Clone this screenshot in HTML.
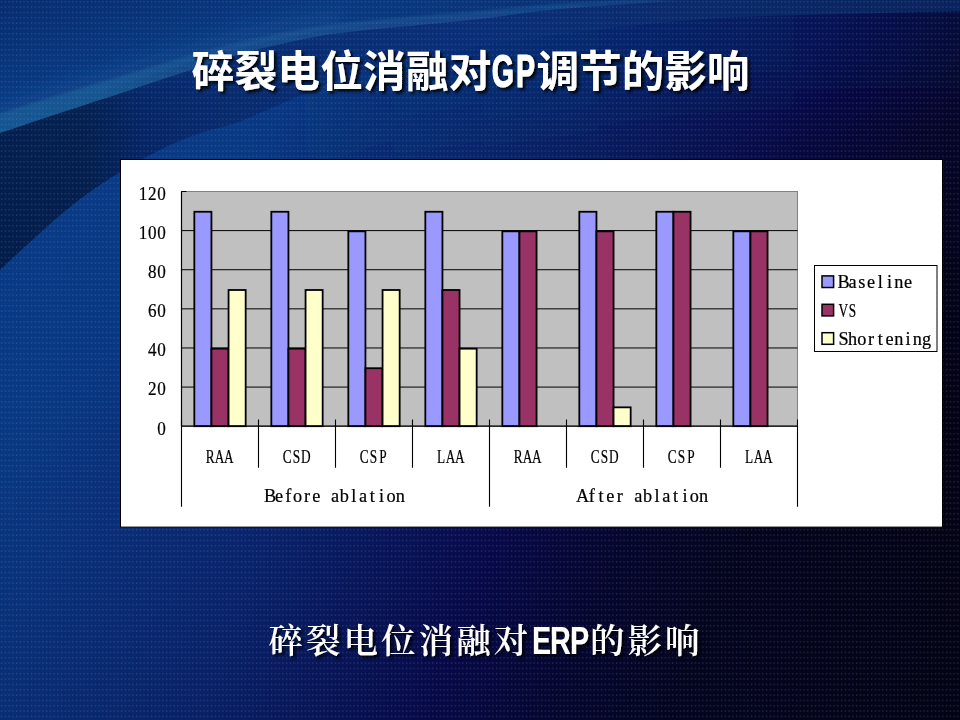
<!DOCTYPE html>
<html lang="zh"><head><meta charset="utf-8"><title>碎裂电位消融对GP调节的影响</title>
<style>
html,body{margin:0;padding:0;background:#08082a;}
body{width:960px;height:720px;overflow:hidden;position:relative;}
svg{position:absolute;left:0;top:0;display:block;}
.m{font-family:"Liberation Serif","Noto Serif CJK SC",serif;text-anchor:middle;fill:#000;stroke:#000;stroke-width:0.22px;}
.t1{font-family:"Liberation Sans","Noto Sans CJK SC","WenQuanYi Zen Hei",sans-serif;font-weight:700;fill:#fff;}
.t1l{font-family:"Liberation Sans","Noto Sans CJK SC",sans-serif;font-weight:700;fill:#fff;text-anchor:middle;}
.gp{stroke:#fff;stroke-width:1.1px;stroke-linejoin:round;}
.t2{font-family:"Liberation Serif","Noto Serif CJK SC","Noto Sans CJK SC",serif;font-weight:600;fill:#fff;}
</style></head><body>
<svg width="960" height="720" viewBox="0 0 960 720">
<defs>
<linearGradient id="gBase" gradientUnits="userSpaceOnUse" x1="0" y1="0" x2="885.6" y2="629.8">
 <stop offset="0" stop-color="#093b86"/>
 <stop offset="0.27" stop-color="#093983"/>
 <stop offset="0.34" stop-color="#093075"/>
 <stop offset="0.49" stop-color="#092163"/>
 <stop offset="0.64" stop-color="#080d4a"/>
 <stop offset="0.68" stop-color="#07083f"/>
 <stop offset="0.77" stop-color="#06062a"/>
 <stop offset="0.86" stop-color="#04041a"/>
 <stop offset="1" stop-color="#020210"/>
</linearGradient>
<linearGradient id="gTop" gradientUnits="userSpaceOnUse" x1="0" y1="0" x2="960" y2="0">
 <stop offset="0" stop-color="#093a82"/>
 <stop offset="0.4" stop-color="#09387f"/>
 <stop offset="0.7" stop-color="#0a2c6c"/>
 <stop offset="1" stop-color="#09235c"/>
</linearGradient>
<linearGradient id="gWedge" gradientUnits="userSpaceOnUse" x1="0" y1="0" x2="960" y2="0">
 <stop offset="0" stop-color="#041f4d"/>
 <stop offset="0.09" stop-color="#052150"/>
 <stop offset="0.15" stop-color="#07286a"/>
 <stop offset="0.21" stop-color="#092c70"/>
 <stop offset="0.35" stop-color="#0a2e74"/>
 <stop offset="0.5" stop-color="#0a2f78"/>
 <stop offset="0.72" stop-color="#0a2a6a"/>
 <stop offset="1" stop-color="#09235c"/>
</linearGradient>
<linearGradient id="gWsh" gradientUnits="userSpaceOnUse" x1="0" y1="0" x2="330" y2="0">
 <stop offset="0" stop-color="#031a47" stop-opacity="0.85"/>
 <stop offset="0.45" stop-color="#031a47" stop-opacity="0.45"/>
 <stop offset="1" stop-color="#031a47" stop-opacity="0"/>
</linearGradient>
<linearGradient id="gBand" gradientUnits="userSpaceOnUse" x1="0" y1="0" x2="700" y2="0">
 <stop offset="0" stop-color="#185690"/>
 <stop offset="0.14" stop-color="#185792" stop-opacity="0.95"/>
 <stop offset="0.3" stop-color="#195894" stop-opacity="0.62"/>
 <stop offset="0.5" stop-color="#1b5a98" stop-opacity="0.55"/>
 <stop offset="0.8" stop-color="#1c5b99" stop-opacity="0.5"/>
 <stop offset="1" stop-color="#2464a6" stop-opacity="0.2"/>
</linearGradient>
<linearGradient id="gGlow" gradientUnits="userSpaceOnUse" x1="260" y1="0" x2="1000" y2="0">
 <stop offset="0" stop-color="#0b2f7c" stop-opacity="0"/>
 <stop offset="0.35" stop-color="#0b2f7c" stop-opacity="0.4"/>
 <stop offset="0.62" stop-color="#0b2c78" stop-opacity="0.3"/>
 <stop offset="0.8" stop-color="#0b2a74" stop-opacity="0.2"/>
 <stop offset="1" stop-color="#0b2a74" stop-opacity="0.1"/>
</linearGradient>
<filter id="b25" x="-20%" y="-100%" width="140%" height="400%"><feGaussianBlur stdDeviation="28"/></filter>
<linearGradient id="gTopV" gradientUnits="userSpaceOnUse" x1="0" y1="0" x2="28" y2="95">
 <stop offset="0" stop-color="#06205c" stop-opacity="0.5"/>
 <stop offset="1" stop-color="#06205c" stop-opacity="0"/>
</linearGradient>
<linearGradient id="gBaseB" gradientUnits="userSpaceOnUse" x1="0" y1="0" x2="1104.8" y2="392.8">
 <stop offset="0" stop-color="#093b86"/>
 <stop offset="0.14" stop-color="#093983"/>
 <stop offset="0.20" stop-color="#0a347f"/>
 <stop offset="0.36" stop-color="#0a256f"/>
 <stop offset="0.55" stop-color="#08094a"/>
 <stop offset="0.65" stop-color="#06062e"/>
 <stop offset="0.745" stop-color="#04051d"/>
 <stop offset="0.94" stop-color="#030313"/>
 <stop offset="1" stop-color="#020210"/>
</linearGradient>
<linearGradient id="gMaskV" gradientUnits="userSpaceOnUse" x1="0" y1="250" x2="0" y2="500">
 <stop offset="0" stop-color="#000"/>
 <stop offset="1" stop-color="#fff"/>
</linearGradient>
<mask id="mLow" maskUnits="userSpaceOnUse" x="0" y="0" width="960" height="720"><rect width="960" height="720" fill="url(#gMaskV)"/></mask>
<linearGradient id="gDarkB" gradientUnits="userSpaceOnUse" x1="0" y1="400" x2="0" y2="720">
 <stop offset="0" stop-color="#020a30" stop-opacity="0"/>
 <stop offset="1" stop-color="#020a30" stop-opacity="0.14"/>
</linearGradient>
<clipPath id="cBand"><path d="M-10.0,136.5 C-8.3,135.9 -11.7,136.9 0.0,133.0 C11.7,129.1 40.0,119.6 60.0,113.0 C80.0,106.4 103.3,99.0 120.0,93.5 C136.7,88.0 146.7,84.4 160.0,80.0 C173.3,75.6 186.7,71.3 200.0,67.0 C213.3,62.7 225.0,58.2 240.0,54.0 C255.0,49.8 273.3,45.5 290.0,42.0 C306.7,38.5 318.3,35.8 340.0,33.0 C361.7,30.2 396.7,27.3 420.0,25.0 C443.3,22.7 460.0,21.3 480.0,19.0 C500.0,16.7 520.0,13.2 540.0,11.0 C560.0,8.8 580.0,7.5 600.0,6.0 C620.0,4.5 641.7,3.2 660.0,2.0 C678.3,0.8 701.7,-0.5 710.0,-1.0 L720,-10 L-10,-10 Z"/></clipPath>
<clipPath id="cWedge"><path d="M-10.0,280.0 C-8.3,278.3 -6.5,276.2 0.0,270.0 C6.5,263.8 19.3,251.8 29.0,243.0 C38.7,234.2 48.3,225.2 58.0,217.0 C67.7,208.8 76.7,201.5 87.0,194.0 C97.3,186.5 110.2,178.2 120.0,172.0 C129.8,165.8 136.8,161.8 146.0,157.0 C155.2,152.2 165.3,147.2 175.0,143.0 C184.7,138.8 194.3,135.2 204.0,132.0 C213.7,128.8 223.7,127.2 233.0,124.0 C242.3,120.8 245.8,119.0 260.0,113.0 C274.2,107.0 302.0,94.7 318.0,88.0 C334.0,81.3 339.0,78.2 356.0,73.0 C373.0,67.8 399.3,61.5 420.0,57.0 C440.7,52.5 460.0,49.3 480.0,46.0 C500.0,42.7 516.7,40.2 540.0,37.0 C563.3,33.8 590.0,30.2 620.0,27.0 C650.0,23.8 683.3,20.2 720.0,18.0 C756.7,15.8 798.3,15.2 840.0,14.0 C881.7,12.8 948.3,11.5 970.0,11.0 L970,-10 L-10,-10 Z"/></clipPath>
<filter id="b1" x="-5%" y="-20%" width="110%" height="140%"><feGaussianBlur stdDeviation="0.9"/></filter>
<filter id="b15" x="-5%" y="-30%" width="110%" height="160%"><feGaussianBlur stdDeviation="1.6"/></filter>
<filter id="b2" x="-5%" y="-30%" width="110%" height="160%"><feGaussianBlur stdDeviation="2.2"/></filter>
<filter id="b8" x="-10%" y="-50%" width="120%" height="200%"><feGaussianBlur stdDeviation="9"/></filter>
<filter id="sh" x="-5%" y="-20%" width="110%" height="150%"><feDropShadow dx="2.5" dy="2.5" stdDeviation="1.6" flood-color="#000" flood-opacity="0.9"/></filter>
<pattern id="dots" width="3.75" height="5.3333" patternUnits="userSpaceOnUse"><rect x="1" y="1" width="1.2" height="1.5" fill="#9fc0ff" fill-opacity="0.2"/></pattern>
</defs>
<rect width="960" height="720" fill="url(#gBase)"/>
<rect width="960" height="720" fill="url(#gBaseB)" mask="url(#mLow)"/>
<rect width="960" height="720" fill="url(#gDarkB)"/>
<path d="M260.0,113.0 C269.7,108.8 302.0,94.7 318.0,88.0 C334.0,81.3 339.0,78.2 356.0,73.0 C373.0,67.8 399.3,61.5 420.0,57.0 C440.7,52.5 460.0,49.3 480.0,46.0 C500.0,42.7 516.7,40.2 540.0,37.0 C563.3,33.8 590.0,30.2 620.0,27.0 C650.0,23.8 683.3,20.2 720.0,18.0 C756.7,15.8 798.3,15.2 840.0,14.0 C881.7,12.8 948.3,11.5 970.0,11.0" stroke="url(#gGlow)" stroke-width="150" fill="none" filter="url(#b25)"/>
<g clip-path="url(#cWedge)">
<rect x="-10" y="-10" width="980" height="300" fill="url(#gWedge)"/>
<path d="M-10.0,280.0 C-8.3,278.3 -6.5,276.2 0.0,270.0 C6.5,263.8 19.3,251.8 29.0,243.0 C38.7,234.2 48.3,225.2 58.0,217.0 C67.7,208.8 76.7,201.5 87.0,194.0 C97.3,186.5 110.2,178.2 120.0,172.0 C129.8,165.8 136.8,161.8 146.0,157.0 C155.2,152.2 165.3,147.2 175.0,143.0 C184.7,138.8 194.3,135.2 204.0,132.0 C213.7,128.8 223.7,127.2 233.0,124.0 C242.3,120.8 245.8,119.0 260.0,113.0 C274.2,107.0 302.0,94.7 318.0,88.0 C334.0,81.3 349.7,75.5 356.0,73.0" stroke="url(#gWsh)" stroke-width="90" fill="none" filter="url(#b8)" opacity="0.25"/>
<path d="M-10.0,127.0 C-8.3,126.5 -11.7,127.8 0.0,124.0 C11.7,120.2 40.0,110.5 60.0,104.0 C80.0,97.5 103.3,90.3 120.0,85.0 C136.7,79.7 146.7,76.2 160.0,72.0 C173.3,67.8 186.7,64.0 200.0,60.0 C213.3,56.0 225.0,51.8 240.0,48.0 C255.0,44.2 273.3,40.3 290.0,37.0 C306.7,33.7 318.3,30.8 340.0,28.0 C361.7,25.2 396.7,22.2 420.0,20.0 C443.3,17.8 460.0,16.5 480.0,14.5 C500.0,12.5 520.0,9.8 540.0,8.0 C560.0,6.2 580.0,4.8 600.0,3.5 C620.0,2.2 650.0,1.0 660.0,0.5 L660,-10 L-10,-10 Z" fill="url(#gTop)"/>
<path d="M-10.0,127.0 C-8.3,126.5 -11.7,127.8 0.0,124.0 C11.7,120.2 40.0,110.5 60.0,104.0 C80.0,97.5 103.3,90.3 120.0,85.0 C136.7,79.7 146.7,76.2 160.0,72.0 C173.3,67.8 186.7,64.0 200.0,60.0 C213.3,56.0 225.0,51.8 240.0,48.0 C255.0,44.2 273.3,40.3 290.0,37.0 C306.7,33.7 318.3,30.8 340.0,28.0 C361.7,25.2 396.7,22.2 420.0,20.0 C443.3,17.8 460.0,16.5 480.0,14.5 C500.0,12.5 520.0,9.8 540.0,8.0 C560.0,6.2 580.0,4.8 600.0,3.5 C620.0,2.2 650.0,1.0 660.0,0.5 L660,-10 L-10,-10 Z" fill="url(#gTopV)"/>
<path d="M-10.0,117.0 C-8.3,116.5 -11.7,117.8 0.0,114.0 C11.7,110.2 40.0,100.5 60.0,94.0 C80.0,87.5 103.3,80.3 120.0,75.0 C136.7,69.7 146.7,66.2 160.0,62.0 C173.3,57.8 186.7,54.0 200.0,50.0 C213.3,46.0 225.0,41.8 240.0,38.0 C255.0,34.2 273.3,30.3 290.0,27.0 C306.7,23.7 331.7,19.5 340.0,18.0" stroke="#2768a8" stroke-opacity="0.22" stroke-width="18" fill="none" filter="url(#b8)"/>
<g clip-path="url(#cBand)"><path d="M-10.0,116.5 C-8.3,116.0 -11.7,117.2 0.0,113.5 C11.7,109.8 40.0,100.7 60.0,94.5 C80.0,88.3 103.3,81.5 120.0,76.5 C136.7,71.5 146.7,68.5 160.0,64.5 C173.3,60.5 186.7,56.3 200.0,52.5 C213.3,48.7 225.0,45.0 240.0,41.5 C255.0,38.0 273.3,34.5 290.0,31.5 C306.7,28.5 318.3,26.1 340.0,23.5 C361.7,20.9 396.7,18.1 420.0,16.0 C443.3,13.9 460.0,12.8 480.0,11.0 C500.0,9.2 520.0,6.6 540.0,5.0 C560.0,3.4 583.3,2.4 600.0,1.5 C616.7,0.6 633.3,-0.2 640.0,-0.5 L710.0,3.0 C701.7,3.5 678.3,4.8 660.0,6.0 C641.7,7.2 620.0,8.5 600.0,10.0 C580.0,11.5 560.0,12.8 540.0,15.0 C520.0,17.2 500.0,20.7 480.0,23.0 C460.0,25.3 443.3,26.7 420.0,29.0 C396.7,31.3 361.7,34.2 340.0,37.0 C318.3,39.8 306.7,42.5 290.0,46.0 C273.3,49.5 255.0,53.8 240.0,58.0 C225.0,62.2 213.3,66.7 200.0,71.0 C186.7,75.3 173.3,79.6 160.0,84.0 C146.7,88.4 136.7,92.0 120.0,97.5 C103.3,103.0 80.0,110.4 60.0,117.0 C40.0,123.6 11.7,133.1 0.0,137.0 C-11.7,140.9 -8.3,139.9 -10.0,140.5 Z" fill="url(#gBand)" filter="url(#b15)"/></g>
</g>
<path d="M-10.0,280.0 C-8.3,278.3 -6.5,276.2 0.0,270.0 C6.5,263.8 19.3,251.8 29.0,243.0 C38.7,234.2 48.3,225.2 58.0,217.0 C67.7,208.8 76.7,201.5 87.0,194.0 C97.3,186.5 110.2,178.2 120.0,172.0 C129.8,165.8 136.8,161.8 146.0,157.0 C155.2,152.2 165.3,147.2 175.0,143.0 C184.7,138.8 194.3,135.2 204.0,132.0 C213.7,128.8 223.7,127.2 233.0,124.0 C242.3,120.8 245.8,119.0 260.0,113.0 C274.2,107.0 302.0,94.7 318.0,88.0 C334.0,81.3 339.0,78.2 356.0,73.0 C373.0,67.8 399.3,61.5 420.0,57.0 C440.7,52.5 460.0,49.3 480.0,46.0 C500.0,42.7 516.7,40.2 540.0,37.0 C563.3,33.8 590.0,30.2 620.0,27.0 C650.0,23.8 683.3,20.2 720.0,18.0 C756.7,15.8 798.3,15.2 840.0,14.0 C881.7,12.8 948.3,11.5 970.0,11.0" stroke="#04184a" stroke-opacity="0.0" fill="none"/>
<rect width="960" height="720" fill="url(#dots)"/>
<g filter="url(#sh)">
<text class="t1" x="191.5" y="87" font-size="42.7" textLength="300" lengthAdjust="spacing">碎裂电位消融对</text>
<text class="t1l gp" transform="translate(0,0) scale(0.62,1)" x="811.0 847.6" y="87.3" font-size="46">GP</text>
<text class="t1" x="536.5" y="87" font-size="42.7" textLength="213" lengthAdjust="spacing">调节的影响</text>
</g>
<g filter="url(#sh)">
<text class="t2" x="268.5 306.1 343.6 381.1 418.7 456.2 493.8" y="653" font-size="34.5">碎裂电位消融对</text>
<text class="t1l" transform="scale(0.74,1)" x="731.8 757.4 783.1" y="653.8" font-size="38.8">ERP</text>
<text class="t2" x="590.0 627.5 665.0" y="653" font-size="34.5">的影响</text>
</g>
<rect x="120.5" y="159.5" width="822" height="367.6" fill="#fff" stroke="#000" stroke-width="1"/>
<rect x="181.5" y="191.5" width="616.0" height="234.7" fill="#c0c0c0" stroke="#808080" stroke-width="1"/>
<path d="M181.5,387.08H797.5M181.5,347.97H797.5M181.5,308.85H797.5M181.5,269.73H797.5M181.5,230.62H797.5" stroke="#000" stroke-width="1" fill="none"/>
<path d="M181.5,191.50h5" stroke="#000" stroke-width="1"/>
<rect x="194.33" y="211.76" width="17.11" height="214.44" fill="#9999ff" stroke="#000" stroke-width="1.8"/>
<rect x="211.44" y="348.67" width="17.11" height="77.53" fill="#993366" stroke="#000" stroke-width="1.8"/>
<rect x="228.56" y="289.99" width="17.11" height="136.21" fill="#ffffcc" stroke="#000" stroke-width="1.8"/>
<rect x="271.33" y="211.76" width="17.11" height="214.44" fill="#9999ff" stroke="#000" stroke-width="1.8"/>
<rect x="288.44" y="348.67" width="17.11" height="77.53" fill="#993366" stroke="#000" stroke-width="1.8"/>
<rect x="305.56" y="289.99" width="17.11" height="136.21" fill="#ffffcc" stroke="#000" stroke-width="1.8"/>
<rect x="348.33" y="231.32" width="17.11" height="194.88" fill="#9999ff" stroke="#000" stroke-width="1.8"/>
<rect x="365.44" y="368.22" width="17.11" height="57.98" fill="#993366" stroke="#000" stroke-width="1.8"/>
<rect x="382.56" y="289.99" width="17.11" height="136.21" fill="#ffffcc" stroke="#000" stroke-width="1.8"/>
<rect x="425.33" y="211.76" width="17.11" height="214.44" fill="#9999ff" stroke="#000" stroke-width="1.8"/>
<rect x="442.44" y="289.99" width="17.11" height="136.21" fill="#993366" stroke="#000" stroke-width="1.8"/>
<rect x="459.56" y="348.67" width="17.11" height="77.53" fill="#ffffcc" stroke="#000" stroke-width="1.8"/>
<rect x="502.33" y="231.32" width="17.11" height="194.88" fill="#9999ff" stroke="#000" stroke-width="1.8"/>
<rect x="519.44" y="231.32" width="17.11" height="194.88" fill="#993366" stroke="#000" stroke-width="1.8"/>
<rect x="579.33" y="211.76" width="17.11" height="214.44" fill="#9999ff" stroke="#000" stroke-width="1.8"/>
<rect x="596.44" y="231.32" width="17.11" height="194.88" fill="#993366" stroke="#000" stroke-width="1.8"/>
<rect x="613.56" y="407.34" width="17.11" height="18.86" fill="#ffffcc" stroke="#000" stroke-width="1.8"/>
<rect x="656.33" y="211.76" width="17.11" height="214.44" fill="#9999ff" stroke="#000" stroke-width="1.8"/>
<rect x="673.44" y="211.76" width="17.11" height="214.44" fill="#993366" stroke="#000" stroke-width="1.8"/>
<rect x="733.33" y="231.32" width="17.11" height="194.88" fill="#9999ff" stroke="#000" stroke-width="1.8"/>
<rect x="750.44" y="231.32" width="17.11" height="194.88" fill="#993366" stroke="#000" stroke-width="1.8"/>
<path d="M181.5,191.5V426.2 M181.5,426.2H797.5" stroke="#000" stroke-width="1.2" fill="none"/>
<path d="M181.50,419.6V506.8M258.50,419.6V467.8M335.50,419.6V467.8M412.50,419.6V467.8M489.50,419.6V506.8M566.50,419.6V467.8M643.50,419.6V467.8M720.50,419.6V467.8M797.50,419.6V506.8" stroke="#000" stroke-width="1.1" fill="none"/>
<text class="m" transform="scale(0.9,1)" x="179.59" y="434.60" font-size="19">0</text>
<text class="m" transform="scale(0.9,1)" x="169.23 179.59" y="395.48" font-size="19">20</text>
<text class="m" transform="scale(0.9,1)" x="169.23 179.59" y="356.37" font-size="19">40</text>
<text class="m" transform="scale(0.9,1)" x="169.23 179.59" y="317.25" font-size="19">60</text>
<text class="m" transform="scale(0.9,1)" x="169.23 179.59" y="278.13" font-size="19">80</text>
<text class="m" transform="scale(0.9,1)" x="158.86 169.23 179.59" y="239.02" font-size="19">100</text>
<text class="m" transform="scale(0.9,1)" x="158.86 169.23 179.59" y="199.90" font-size="19">120</text>
<text class="m" transform="scale(0.7,1)" x="300.24 313.57 326.90" y="463.20" font-size="19">RAA</text>
<text class="m" transform="scale(0.7,1)" x="410.24 423.57 436.90" y="463.20" font-size="19">CSD</text>
<text class="m" transform="scale(0.7,1)" x="520.24 533.57 546.90" y="463.20" font-size="19">CSP</text>
<text class="m" transform="scale(0.7,1)" x="630.24 643.57 656.90" y="463.20" font-size="19">LAA</text>
<text class="m" transform="scale(0.7,1)" x="740.24 753.57 766.90" y="463.20" font-size="19">RAA</text>
<text class="m" transform="scale(0.7,1)" x="850.24 863.57 876.90" y="463.20" font-size="19">CSD</text>
<text class="m" transform="scale(0.7,1)" x="960.24 973.57 986.90" y="463.20" font-size="19">CSP</text>
<text class="m" transform="scale(0.7,1)" x="1070.24 1083.57 1096.90" y="463.20" font-size="19">LAA</text>
<text class="m" transform="scale(0.96,1)" x="281.24 290.65 300.36 310.08 319.80 329.52 339.24 348.96 358.68 368.40 378.11 387.83 397.55 407.27 416.99" y="502.00" font-size="19">Before ablation</text>
<text class="m" transform="scale(0.96,1)" x="606.93 616.34 626.06 635.78 645.49 655.21 664.93 674.65 684.37 694.09 703.81 713.53 723.24 732.96" y="502.00" font-size="19">After ablation</text>
<rect x="814.5" y="265.5" width="122.5" height="86" fill="#fff" stroke="#000" stroke-width="1"/>
<rect x="822" y="275.9" width="11.6" height="11.6" fill="#9999ff" stroke="#000" stroke-width="1.5"/>
<text class="m" transform="scale(0.96,1)" x="878.67 887.99 897.63 907.27 916.90 926.54 936.17 945.81" y="288.50" font-size="19">Baseline</text>
<rect x="822" y="304.3" width="11.6" height="11.6" fill="#993366" stroke="#000" stroke-width="1.5"/>
<text class="m" transform="scale(0.7,1)" x="1204.61 1217.82" y="316.90" font-size="19">VS</text>
<rect x="822" y="332.7" width="11.6" height="11.6" fill="#ffffcc" stroke="#000" stroke-width="1.5"/>
<text class="m" transform="scale(0.96,1)" x="878.67 887.99 897.63 907.27 916.90 926.54 936.17 945.81 955.44 965.08" y="345.30" font-size="19">Shortening</text>
</svg>
</body></html>
